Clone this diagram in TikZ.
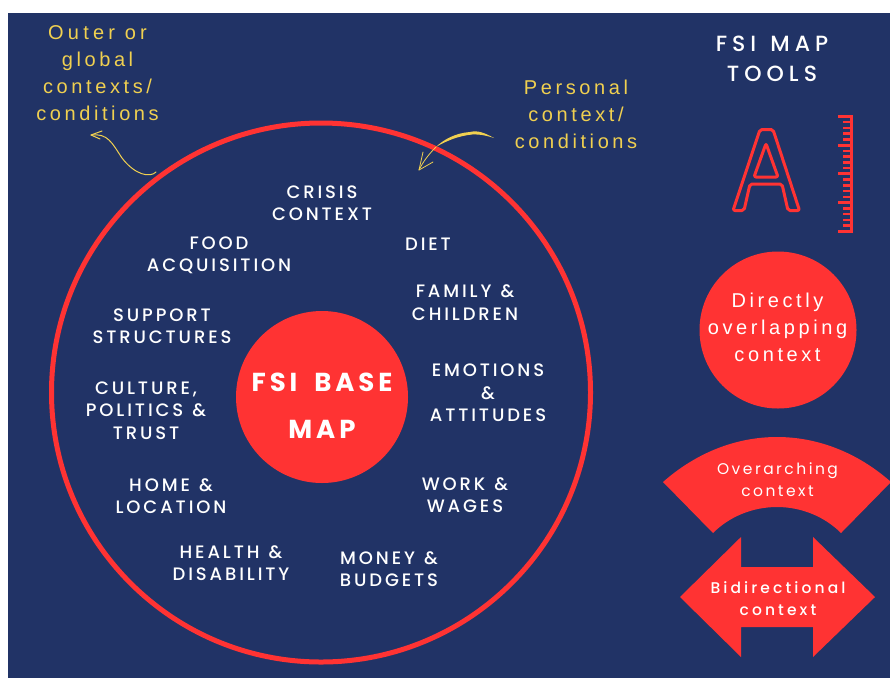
\documentclass[tikz,border=0pt]{standalone}
\usepackage{fontspec}
\setmainfont{Poppins}
\newfontfamily\whitef[LetterSpace=16,WordSpace=1.2,UprightFont={* Medium}]{Poppins}
\newfontfamily\bigf[LetterSpace=15,WordSpace=1.8,UprightFont={* Bold}]{Poppins}
\newfontfamily\titlef[LetterSpace=23,WordSpace=1.3,UprightFont={* Medium}]{Poppins}
\newfontfamily\toolf[LetterSpace=16]{Poppins}
\newfontfamily\bidirf[LetterSpace=20,UprightFont={* Medium}]{Poppins}
\newfontfamily\yellowf[LetterSpace=18]{Liberation Sans}
\newfontfamily\yellowwidef[LetterSpace=21]{Liberation Sans}
\definecolor{navy}{HTML}{213366}
\definecolor{fsired}{HTML}{FF3333}
\definecolor{fsiyellow}{HTML}{F0D050}
\tikzset{
  lab/.style={text=white,align=center,inner sep=0pt,font=\whitef\fontsize{18}{22.3}\selectfont},
  big/.style={text=white,align=center,inner sep=0pt,font=\bigf\fontsize{26}{47}\selectfont},
  tool/.style={text=white,align=center,inner sep=0pt,font=\toolf\fontsize{15.5}{22}\selectfont},
  bidirlab/.style={text=white,align=center,inner sep=0pt,font=\bidirf\fontsize{15.5}{22}\selectfont},
  ylab/.style={text=fsiyellow,align=center,inner sep=0pt,font=\yellowf\fontsize{20}{27}\selectfont},
  dlab/.style={text=white,align=center,inner sep=0pt,font=\yellowf\fontsize{20}{27}\selectfont},
  ttl/.style={text=white,align=center,inner sep=0pt,font=\titlef\fontsize{22}{30}\selectfont},
  yarrow/.style={draw=fsiyellow,line width=1pt,line cap=round,line join=round},
  aglyph/.style={draw=fsired,line width=3pt,line join=round,rounded corners=2pt},
}
\begin{document}
\begin{tikzpicture}[x=1pt,y=-1pt]
\useasboundingbox (0,0) rectangle (890,678);
\fill[white] (0,0) rectangle (890,678);
\fill[navy] (8,13) rectangle (890,678);
% circles
\node[circle,draw=fsired,line width=5pt,minimum size=539pt,inner sep=0pt] (outer) at (321,392.5) {};
\node[circle,fill=fsired,minimum size=172pt,inner sep=0pt] (base) at (322,397) {};
\node[big] (basetext) at (322,405.5) {FSI BASE\\MAP};
% labels
\node[lab] (crisis) at (322,203.5) {CRISIS\\CONTEXT};
\node[lab] (food) at (219,255.5) {FOOD\\ACQUISITION};
\node[lab] (diet) at (428,244.5) {DIET};
\node[lab] (family) at (465,302.5) {FAMILY \&\\CHILDREN};
\node[lab] (support) at (162,326.5) {SUPPORT\\STRUCTURES};
\node[lab] (emotions) at (488,393) {EMOTIONS\\\&\\ATTITUDES};
\node[lab] (culture) at (146,410.5) {CULTURE,\\POLITICS \&\\TRUST};
\node[lab] (home) at (171,496) {HOME \&\\LOCATION};
\node[lab] (work) at (465,495.5) {WORK \&\\WAGES};
\node[lab] (health) at (231,563.5) {HEALTH \&\\DISABILITY};
\node[lab] (money) at (389,569) {MONEY \&\\BUDGETS};
% yellow
\node[ylab] (outerlab) at (97.5,73.5) {{\yellowwidef Outer or}\\global\\contexts/\\conditions};
\node[ylab] (perslab) at (576,114.5) {Personal\\context/\\conditions};
\coordinate (a1) at (156,172);
\coordinate (a2) at (91,135);
\draw[yarrow] (a1) .. controls (150,178) and (135,175) .. (122,158) .. controls (112,143) and (108,133) .. (a2);
\draw[yarrow] (102,131) -- (a2) -- (100,139);
\coordinate (b1) at (494,138);
\coordinate (b2) at (419,170);
\fill[fsiyellow] (b1) .. controls (485,133) and (478,130) .. (470,132) .. controls (455,133) and (443,140) .. (436,147) .. controls (446,141) and (458,136) .. (472,134.5) .. controls (480,134) and (488,136) .. (b1);
\draw[yarrow,line width=0.8pt] (436,147) .. controls (428,155) and (423,162) .. (b2);
\draw[yarrow,line width=0.8pt] (423,152) -- (b2) -- (433,162);
% tools title
\node[ttl] (title) at (772,58.5) {FSI MAP\\TOOLS};
% A
\draw[aglyph]
  (760,129.5) -- (773,129.5) -- (799.5,210.5) -- (788,210.5) -- (782,184) -- (750,184) -- (744,210.5) -- (733,210.5) -- cycle;
\draw[aglyph] (766,143.5) -- (754,177) -- (778,177) -- cycle;
% ruler
\fill[fsired] (849.5,115) rectangle (853,232.5);
\foreach \i in {0,...,20}{
  \pgfmathsetmacro{\yy}{116.3+\i*5.75}
  \pgfmathparse{int(mod(\i,5))}
  \ifnum\pgfmathresult=0
    \fill[fsired] (838,\yy-1.5) rectangle (850,\yy+1.5);
  \else
    \fill[fsired] (843,\yy-1.3) rectangle (850,\yy+1.3);
  \fi
}
% tool shapes
\node[circle,fill=fsired,minimum size=157pt,inner sep=0pt] (direct) at (778,330) {};
\node[dlab] (directtext) at (777.5,327.5) {Directly\\overlapping\\context};
\begin{scope}
\clip (650,430) rectangle (890,540);
\fill[fsired] (663,482) .. controls (697,452) and (737,437) .. (777,437) .. controls (817,437) and (857,452) .. (891,482) -- (841,533) .. controls (825,517) and (802,507) .. (777,507) .. controls (752,507) and (729,517) .. (713,533) -- cycle;
\end{scope}
\node[tool] (over) at (777.5,479.5) {Overarching\\context};
\fill[fsired] (680,597) -- (741,537) -- (741,567) -- (813,567) -- (813,537) -- (875,597) -- (813,657) -- (813,627) -- (741,627) -- (741,657) -- cycle;
\node[bidirlab] (bidir) at (778,598.5) {Bidirectional\\context};
\end{tikzpicture}
\end{document}
